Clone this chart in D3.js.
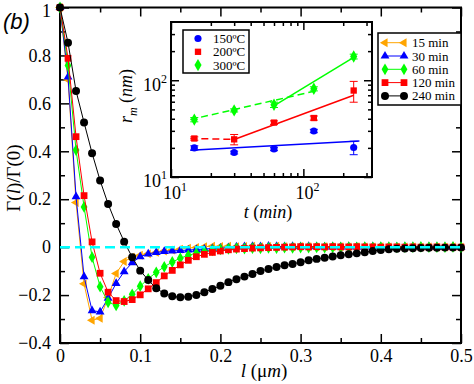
<!DOCTYPE html>
<html lang="en">
<head>
<meta charset="UTF-8">
<script src="https://d3js.org/d3.v7.min.js"></script>
<style>
  body { margin: 0; background: #fff; }
</style>
</head>
<body>
<div id="chart"></div>
<script>
// correlation curves, l in micrometres
var lValues = [0, 0.01, 0.02, 0.03, 0.04, 0.05, 0.06, 0.07, 0.08, 0.09,
    0.10, 0.11, 0.12, 0.13, 0.14, 0.15, 0.16, 0.17, 0.18, 0.19,
    0.20, 0.21, 0.22, 0.23, 0.24, 0.25, 0.26, 0.27, 0.28, 0.29,
    0.30, 0.31, 0.32, 0.33, 0.34, 0.35, 0.36, 0.37, 0.38, 0.39,
    0.40, 0.41, 0.42, 0.43, 0.44, 0.45, 0.46, 0.47, 0.48, 0.49, 0.50];

var g15 = [1, 0.698, 0.186, -0.153, -0.305, -0.297, -0.21, -0.11, -0.06, -0.042,
    -0.034, -0.028, -0.022, -0.016, -0.012, -0.008, -0.004, -0.001, 0.002, 0.004,
    0.003, 0.004, 0.002, 0.003, 0.004, 0.002, 0.003, 0.004, 0.002, 0.001,
    0.003, 0.002, 0.001, 0.002, 0.001, 0.002, 0.001, 0.002, 0.001, 0.001,
    0.002, 0.001, 0.000, 0.001, 0.001, 0.000, 0.001, 0.000, 0.000, 0.001, 0.000];
var g30 = [1, 0.71, 0.211, -0.123, -0.265, -0.27, -0.213, -0.151, -0.102, -0.065,
    -0.04, -0.028, -0.022, -0.018, -0.016, -0.014, -0.012, -0.01, -0.008, -0.006,
    -0.004, -0.002, 0.001, 0.002, 0.003, 0.002, 0.004, 0.003, 0.002, 0.003,
    0.002, 0.003, 0.002, 0.001, 0.002, 0.001, 0.002, 0.001, 0.001, 0.002,
    0.001, 0.001, 0.000, 0.001, 0.001, 0.000, 0.001, 0.000, 0.000, 0.001, 0.000];
var g60 = [1, 0.758, 0.405, 0.168, -0.042, -0.165, -0.23, -0.243, -0.224, -0.197,
    -0.163, -0.132, -0.105, -0.082, -0.062, -0.046, -0.034, -0.025, -0.018, -0.013,
    -0.009, -0.007, -0.005, -0.006, -0.004, -0.005, -0.003, -0.004, -0.002, -0.003,
    -0.002, -0.002, -0.001, -0.002, -0.001, -0.001, 0.000, -0.001, 0.000, -0.001,
    0.000, 0.000, -0.001, 0.000, 0.000, 0.001, 0.000, 0.000, 0.000, 0.001, 0.000];
var g120 = [1, 0.788, 0.461, 0.215, 0.022, -0.109, -0.188, -0.223, -0.227, -0.219,
    -0.199, -0.174, -0.148, -0.12, -0.097, -0.074, -0.055, -0.04, -0.03, -0.022,
    -0.016, -0.011, -0.008, -0.006, -0.004, -0.003, -0.002, -0.001, 0.000, 0.001,
    0.002, 0.001, 0.002, 0.001, 0.002, 0.001, 0.001, 0.002, 0.001, 0.001,
    0.000, 0.001, 0.001, 0.000, 0.001, 0.000, 0.000, 0.001, 0.000, 0.000, 0.000];
var g240 = [1, 0.853, 0.652, 0.52, 0.392, 0.278, 0.18, 0.097, 0.023, -0.042,
    -0.098, -0.137, -0.172, -0.193, -0.205, -0.209, -0.207, -0.2, -0.188, -0.175,
    -0.161, -0.146, -0.134, -0.123, -0.112, -0.1, -0.091, -0.083, -0.076, -0.07,
    -0.063, -0.055, -0.049, -0.044, -0.039, -0.034, -0.03, -0.026, -0.021, -0.016,
    -0.012, -0.009, -0.007, -0.006, -0.005, -0.004, -0.003, -0.003, -0.002, -0.002, -0.002];

var timeLabels = ['15 min', '30 min', '60 min', '120 min', '240 min'];
var xTicks = [0, 0.1, 0.2, 0.3, 0.4, 0.5];
var xMinor = [0.05, 0.15, 0.25, 0.35, 0.45];
var yTicks = [-0.4, -0.2, 0, 0.2, 0.4, 0.6, 0.8, 1];
var yMinor = [-0.3, -0.1, 0.1, 0.3, 0.5, 0.7, 0.9];

// inset: mean radius vs annealing time
var tValues = [15, 30, 60, 120, 240];
var temps = ['150ºC', '200ºC', '300ºC'];
var r150 = [20.0, 17.9, 19.5, 29.9, 20.2];
var e150 = [1.0, 0.6, 0.8, 1.2, 3.2];
var r200 = [25.0, 24.5, 36.5, 40.7, 78.3];
var e200 = [1.0, 3.0, 1.5, 2.0, 19];
var r300 = [39.2, 48.8, 55.8, 81.6, 176];
var e300 = [2.0, 1.8, 3.5, 4.0, 10];
var fit150 = { t: [14, 265], r: [18.9, 23.6] };
var fit200a = { t: [14, 30], r: [25.0, 24.5] };
var fit200b = { t: [30, 240], r: [24.4, 70.1] };
var fit300a = { t: [14, 121], r: [39.2, 77.1] };
var fit300b = { t: [59, 240], r: [53.7, 172] };
var insetMajor = [10, 100];
var insetMinorX = [20, 30, 40, 50, 60, 70, 80, 90, 200, 300];
var insetMinorY = [20, 30, 40, 50, 60, 70, 80, 90, 200, 300];

var SERIF = "'Liberation Serif', 'Times New Roman', Times, serif";

var width = 474, height = 384;
var svg = d3.select('#chart').append('svg')
    .attr('width', width)
    .attr('height', height)
    .attr('font-family', SERIF);

var x = d3.scaleLinear().domain([0, 0.5]).range([60, 461]);
var y = d3.scaleLinear().domain([-0.4, 1]).range([343, 7.5]);

var series = [
    { name: timeLabels[0], vals: g15, color: '#ffa500', sym: d3.symbolTriangle, size: 34, rot: -90 },
    { name: timeLabels[1], vals: g30, color: '#0000ff', sym: d3.symbolTriangle, size: 34, rot: 0 },
    { name: timeLabels[2], vals: g60, color: '#00ff00', sym: d3.symbolDiamond, size: 40, rot: 0 },
    { name: timeLabels[3], vals: g120, color: '#ff0000', sym: d3.symbolSquare, size: 46, rot: 0 },
    { name: timeLabels[4], vals: g240, color: '#000000', sym: d3.symbolCircle, size: 50, rot: 0 }
];

function drawAxes(g, xs, ys, xt, xm, yt, ym, big, small) {
    var bottom = ys.range()[0], top = ys.range()[1];
    var left = xs.range()[0], right = xs.range()[1];
    var ax = [
        [d3.axisBottom(xs), bottom, 0, xt, xm],
        [d3.axisTop(xs), top, 0, xt, xm],
        [d3.axisLeft(ys), 0, left, yt, ym],
        [d3.axisRight(ys), 0, right, yt, ym]
    ];
    ax.forEach(function (a) {
        [[a[3], big], [a[4], small]].forEach(function (k) {
            g.append('g')
                .attr('transform', 'translate(' + a[2] + ',' + a[1] + ')')
                .call(a[0].tickValues(k[0]).tickSize(-k[1]).tickSizeOuter(0).tickFormat(''))
                .call(function (s) { s.select('.domain').remove(); })
                .selectAll('line').attr('stroke-width', 1.5);
        });
    });
    g.append('rect')
        .attr('x', left).attr('y', top)
        .attr('width', right - left).attr('height', bottom - top)
        .attr('fill', 'none').attr('stroke', '#000').attr('stroke-width', 2);
}

// main plot
var main = svg.append('g');
drawAxes(main, x, y, xTicks, xMinor, yTicks, yMinor, 9, 5);

main.append('g')
    .attr('transform', 'translate(0,343)')
    .call(d3.axisBottom(x).tickValues(xTicks).tickSize(0).tickPadding(6)
        .tickFormat(function (d) { return d === 0 ? '0' : d3.format('.1f')(d); }))
    .attr('font-family', SERIF)
    .call(function (s) { s.select('.domain').remove(); })
    .selectAll('text').attr('font-size', 18).attr('fill', '#000');

main.append('g')
    .attr('transform', 'translate(60,0)')
    .call(d3.axisLeft(y).tickValues(yTicks).tickSize(0).tickPadding(9)
        .tickFormat(function (d) { return (d === 0 || d === 1) ? String(d) : d3.format('.1f')(d); }))
    .attr('font-family', SERIF)
    .call(function (s) { s.select('.domain').remove(); })
    .selectAll('text').attr('font-size', 18).attr('fill', '#000')
    .attr('dy', function (d) { return d === 1 ? '0.5em' : '0.32em'; });

var line = d3.line()
    .x(function (d) { return x(d[0]); })
    .y(function (d) { return y(d[1]); });

series.forEach(function (s) {
    var pts = lValues.map(function (l, i) { return [l, s.vals[i]]; });
    var gs = main.append('g');
    gs.append('path')
        .attr('d', line(pts))
        .attr('fill', 'none')
        .attr('stroke', s.color)
        .attr('stroke-width', 1);
    gs.selectAll('path.m')
        .data(pts)
        .enter()
        .append('path')
        .attr('class', 'm')
        .attr('d', d3.symbol().type(s.sym).size(s.size))
        .attr('transform', function (d) {
            return 'translate(' + x(d[0]) + ',' + y(d[1]) + ') rotate(' + s.rot + ')';
        })
        .attr('fill', s.color);
});

// zero reference line
main.append('line')
    .attr('x1', x(0)).attr('x2', x(0.5))
    .attr('y1', y(0)).attr('y2', y(0))
    .attr('stroke', '#00ffff')
    .attr('stroke-width', 2.5)
    .attr('stroke-dasharray', '10,5');

// axis titles
var yt = main.append('text')
    .attr('transform', 'translate(20,' + 178 + ') rotate(-90)')
    .attr('text-anchor', 'middle')
    .attr('font-size', 19);
yt.append('tspan').text('Γ(');
yt.append('tspan').attr('font-style', 'italic').text('l');
yt.append('tspan').text(')/Γ(0)');

var xt = main.append('text')
    .attr('x', 264).attr('y', 377)
    .attr('text-anchor', 'middle')
    .attr('font-size', 19);
xt.append('tspan').attr('font-style', 'italic').text('l');
xt.append('tspan').text(' (μ');
xt.append('tspan').attr('font-style', 'italic').text('m');
xt.append('tspan').text(')');

svg.append('text')
    .attr('x', 3).attr('y', 29)
    .attr('font-size', 22)
    .attr('font-style', 'italic')
    .attr('font-family', "'Liberation Sans', Arial, sans-serif")
    .text('(b)');

// main legend
var leg = main.append('g');
leg.append('rect')
    .attr('x', 378).attr('y', 33)
    .attr('width', 83).attr('height', 72)
    .attr('fill', '#fff').attr('stroke', '#000').attr('stroke-width', 1.5);
series.forEach(function (s, i) {
    var ly = 42.7 + i * 13.3;
    leg.append('line')
        .attr('x1', 385).attr('x2', 404)
        .attr('y1', ly).attr('y2', ly)
        .attr('stroke', s.color).attr('stroke-width', 1);
    [385, 404].forEach(function (lx) {
        leg.append('path')
            .attr('d', d3.symbol().type(s.sym).size(s.size))
            .attr('transform', 'translate(' + lx + ',' + ly + ') rotate(' + s.rot + ')')
            .attr('fill', s.color);
    });
    leg.append('text')
        .attr('x', 412).attr('y', ly + 4.5)
        .attr('font-size', 13)
        .text(s.name);
});

// inset
var xi = d3.scaleLog().domain([10, 330]).range([171, 372]);
var yi = d3.scaleLog().domain([10, 400]).range([177, 22]);
var inset = svg.append('g');
inset.append('rect')
    .attr('x', 171).attr('y', 22)
    .attr('width', 201).attr('height', 155)
    .attr('fill', '#fff');
drawAxes(inset, xi, yi, insetMajor, insetMinorX, insetMajor, insetMinorY, 8, 4);

function powerLabel(sel) {
    sel.each(function (d) {
        var t = d3.select(this).text('');
        t.append('tspan').text('10');
        t.append('tspan').attr('dy', -8).attr('font-size', 12).text(Math.round(Math.log10(d)));
    });
}

inset.append('g')
    .attr('transform', 'translate(0,177)')
    .call(d3.axisBottom(xi).tickValues(insetMajor).tickSize(0).tickPadding(9))
    .attr('font-family', SERIF)
    .call(function (s) { s.select('.domain').remove(); })
    .selectAll('text').attr('font-size', 18).attr('fill', '#000')
    .attr('dx', '0.2em')
    .call(powerLabel);

inset.append('g')
    .attr('transform', 'translate(171,0)')
    .call(d3.axisLeft(yi).tickValues(insetMajor).tickSize(0).tickPadding(4))
    .attr('font-family', SERIF)
    .call(function (s) { s.select('.domain').remove(); })
    .selectAll('text').attr('font-size', 18).attr('fill', '#000')
    .attr('dy', '0.55em')
    .call(powerLabel);

var it = inset.append('text')
    .attr('x', 268).attr('y', 218)
    .attr('text-anchor', 'middle')
    .attr('font-size', 18);
it.append('tspan').attr('font-style', 'italic').text('t');
it.append('tspan').text(' (');
it.append('tspan').attr('font-style', 'italic').text('min');
it.append('tspan').text(')');

var ir = inset.append('text')
    .attr('transform', 'translate(132,96) rotate(-90)')
    .attr('text-anchor', 'middle')
    .attr('font-size', 18);
ir.append('tspan').attr('font-style', 'italic').text('r');
ir.append('tspan').attr('font-style', 'italic').attr('font-size', 12).attr('dy', 5).text('m');
ir.append('tspan').attr('dy', -5).text(' (');
ir.append('tspan').attr('font-style', 'italic').text('nm');
ir.append('tspan').text(')');

var iline = d3.line()
    .x(function (d) { return xi(d[0]); })
    .y(function (d) { return yi(d[1]); });

var insetSeries = [
    { name: temps[0], r: r150, e: e150, color: '#0000ff', sym: d3.symbolCircle, size: 40,
        fits: [[fit150, '']] },
    { name: temps[1], r: r200, e: e200, color: '#ff0000', sym: d3.symbolSquare, size: 40,
        fits: [[fit200a, '7,4'], [fit200b, '']] },
    { name: temps[2], r: r300, e: e300, color: '#00ff00', sym: d3.symbolDiamond, size: 44,
        fits: [[fit300a, '7,4'], [fit300b, '']] }
];

insetSeries.forEach(function (s) {
    s.fits.forEach(function (f) {
        inset.append('path')
            .attr('d', iline(f[0].t.map(function (t, i) { return [t, f[0].r[i]]; })))
            .attr('fill', 'none')
            .attr('stroke', s.color)
            .attr('stroke-width', 1.5)
            .attr('stroke-dasharray', f[1] || null);
    });
    tValues.forEach(function (t, i) {
        var cx = xi(t);
        var y0 = yi(s.r[i] - s.e[i]), y1 = yi(s.r[i] + s.e[i]);
        inset.append('line')
            .attr('x1', cx).attr('x2', cx).attr('y1', y0).attr('y2', y1)
            .attr('stroke', s.color).attr('stroke-width', 1);
        [y0, y1].forEach(function (yy) {
            inset.append('line')
                .attr('x1', cx - 4).attr('x2', cx + 4).attr('y1', yy).attr('y2', yy)
                .attr('stroke', s.color).attr('stroke-width', 1);
        });
        inset.append('path')
            .attr('d', d3.symbol().type(s.sym).size(s.size))
            .attr('transform', 'translate(' + cx + ',' + yi(s.r[i]) + ')')
            .attr('fill', s.color);
    });
});

// inset legend
var il = inset.append('g');
il.append('rect')
    .attr('x', 183).attr('y', 30)
    .attr('width', 66).attr('height', 43)
    .attr('fill', '#fff').attr('stroke', '#000').attr('stroke-width', 1.5);
insetSeries.forEach(function (s, i) {
    var ly = 38.5 + i * 13.3;
    il.append('path')
        .attr('d', d3.symbol().type(s.sym).size(s.size))
        .attr('transform', 'translate(198,' + ly + ')')
        .attr('fill', s.color);
    il.append('text')
        .attr('x', 213).attr('y', ly + 4.5)
        .attr('font-size', 13)
        .text(s.name);
});
</script>
</body>
</html>
